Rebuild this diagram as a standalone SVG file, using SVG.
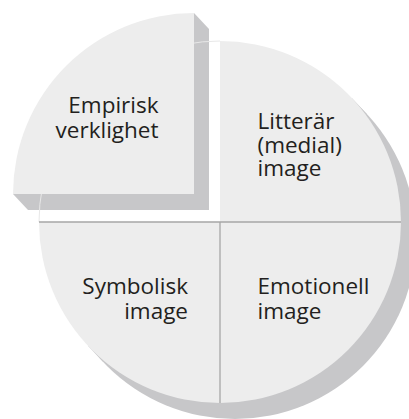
<svg xmlns="http://www.w3.org/2000/svg" width="409" height="419" viewBox="0 0 409 419">
  <style>
    .shadow { fill: #c7c7c9; }
    .slice { fill: #ededed; }
    .divider { stroke: #a6a6a6; stroke-width: 1.3; fill: none; }
    .label { font-family: "Open Sans", "Noto Sans", sans-serif; font-size: 22.5px; fill: #231f20; }
    .end { text-anchor: end; }
    .start { text-anchor: start; }
  </style>
  <rect width="409" height="419" fill="#ffffff"/>
  <g id="shadows">
    <g transform="translate(15,16)" class="shadow">
      <path d="M220,222 L220,41 A181,181 0 0 1 401,222 Z"/>
      <path d="M220,222 L401,222 A181,181 0 0 1 220,403 Z"/>
      <path d="M220,222 L220,403 A181,181 0 0 1 39,222 Z"/>
    </g>
    <polygon class="shadow" points="352.06,98.2 367.06,114.2 102.94,361.8 87.94,345.8"/>
    <polygon class="shadow" points="13,194 194,13 209,29 209,210 28,210"/>
  </g>
  <path d="M39,222 A181,181 0 0 1 220,41" fill="none" stroke="#e8e8e8" stroke-width="1"/>
  <g id="literar">
    <path class="slice" d="M220,222 L220,41 A181,181 0 0 1 401,222 Z"/>
    <text class="label start" x="257.5" y="129.3">Litterär</text>
    <text class="label start" x="257.5" y="152.7">(medial)</text>
    <text class="label start" x="257.5" y="176">image</text>
  </g>
  <g id="emotionell">
    <path class="slice" d="M220,222 L401,222 A181,181 0 0 1 220,403 Z"/>
    <text class="label start" x="257.5" y="294">Emotionell</text>
    <text class="label start" x="257.5" y="319">image</text>
  </g>
  <g id="symbolisk">
    <path class="slice" d="M220,222 L220,403 A181,181 0 0 1 39,222 Z"/>
    <text class="label end" x="188" y="294">Symbolisk</text>
    <text class="label end" x="188" y="319">image</text>
  </g>
  <g id="empirisk">
    <path class="slice" d="M194,194 L13,194 A181,181 0 0 1 194,13 Z"/>
    <text class="label end" x="158.5" y="113.3">Empirisk</text>
    <text class="label end" x="158.5" y="137.7">verklighet</text>
  </g>
  <g id="connectors">
    <line class="divider" x1="39" y1="222" x2="401" y2="222"/>
    <line class="divider" x1="220" y1="222" x2="220" y2="403"/>
  </g>
</svg>
